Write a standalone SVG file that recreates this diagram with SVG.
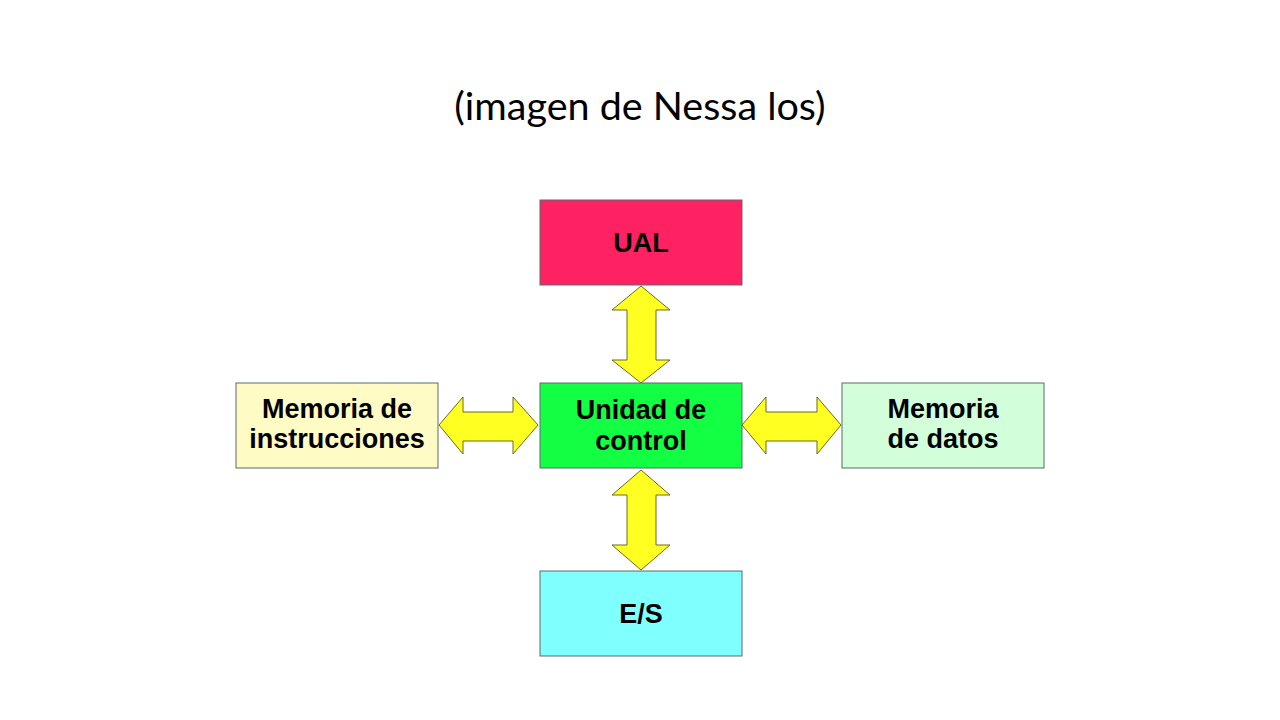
<svg xmlns="http://www.w3.org/2000/svg" width="1280" height="720" viewBox="0 0 1280 720">
  <style>
    .box { stroke: #5a6a6a; stroke-width: 1; }
    .lbl { font-family: "Liberation Sans", Arial, sans-serif; font-weight: bold; font-size: 27px; fill: #000; text-anchor: middle; }
    .arr { fill: #ffff22; stroke: #6a6a20; stroke-width: 1; stroke-linejoin: miter; }
    .title { font-family: "Lato", "Open Sans", sans-serif; font-size: 39.5px; fill: #000; text-anchor: middle; }
  </style>
  <rect width="1280" height="720" fill="#ffffff"/>
  <text class="title" x="640" y="120">(imagen de Nessa los)</text>

  <g id="connectors">
    <polygon class="arr" points="641,286 670,310 656,310 656,360 670,360 641,383 612,360 627,360 627,310 612,310"/>
    <polygon class="arr" points="641,470 670,495 656,495 656,545 670,545 641,570 612,545 627,545 627,495 612,495"/>
    <polygon class="arr" points="439,425 463,397 463,412 513,412 513,397 538,425 513,454 513,441 463,441 463,454"/>
    <polygon class="arr" points="742,425 766,397 766,412 817,412 817,397 841,425 817,454 817,441 766,441 766,454"/>
  </g>

  <g id="ual">
    <rect class="box" x="540" y="200" width="202" height="85" fill="#ff2262"/>
    <text class="lbl" x="641" y="252">UAL</text>
  </g>
  <g id="unidad-control">
    <rect class="box" x="540" y="383" width="202" height="85" fill="#12ff44"/>
    <text class="lbl" x="641" y="419">Unidad de</text>
    <text class="lbl" x="641" y="450">control</text>
  </g>
  <g id="memoria-instrucciones">
    <rect class="box" x="236" y="383" width="202" height="85" fill="#fffbc4"/>
    <text class="lbl" x="337" y="418">Memoria de</text>
    <text class="lbl" x="337" y="448">instrucciones</text>
  </g>
  <g id="memoria-datos">
    <rect class="box" x="842" y="383" width="202" height="85" fill="#d2ffda"/>
    <text class="lbl" x="943" y="418">Memoria</text>
    <text class="lbl" x="943" y="448">de datos</text>
  </g>
  <g id="es">
    <rect class="box" x="540" y="571" width="202" height="85" fill="#80ffff"/>
    <text class="lbl" x="641" y="623">E/S</text>
  </g>
</svg>
